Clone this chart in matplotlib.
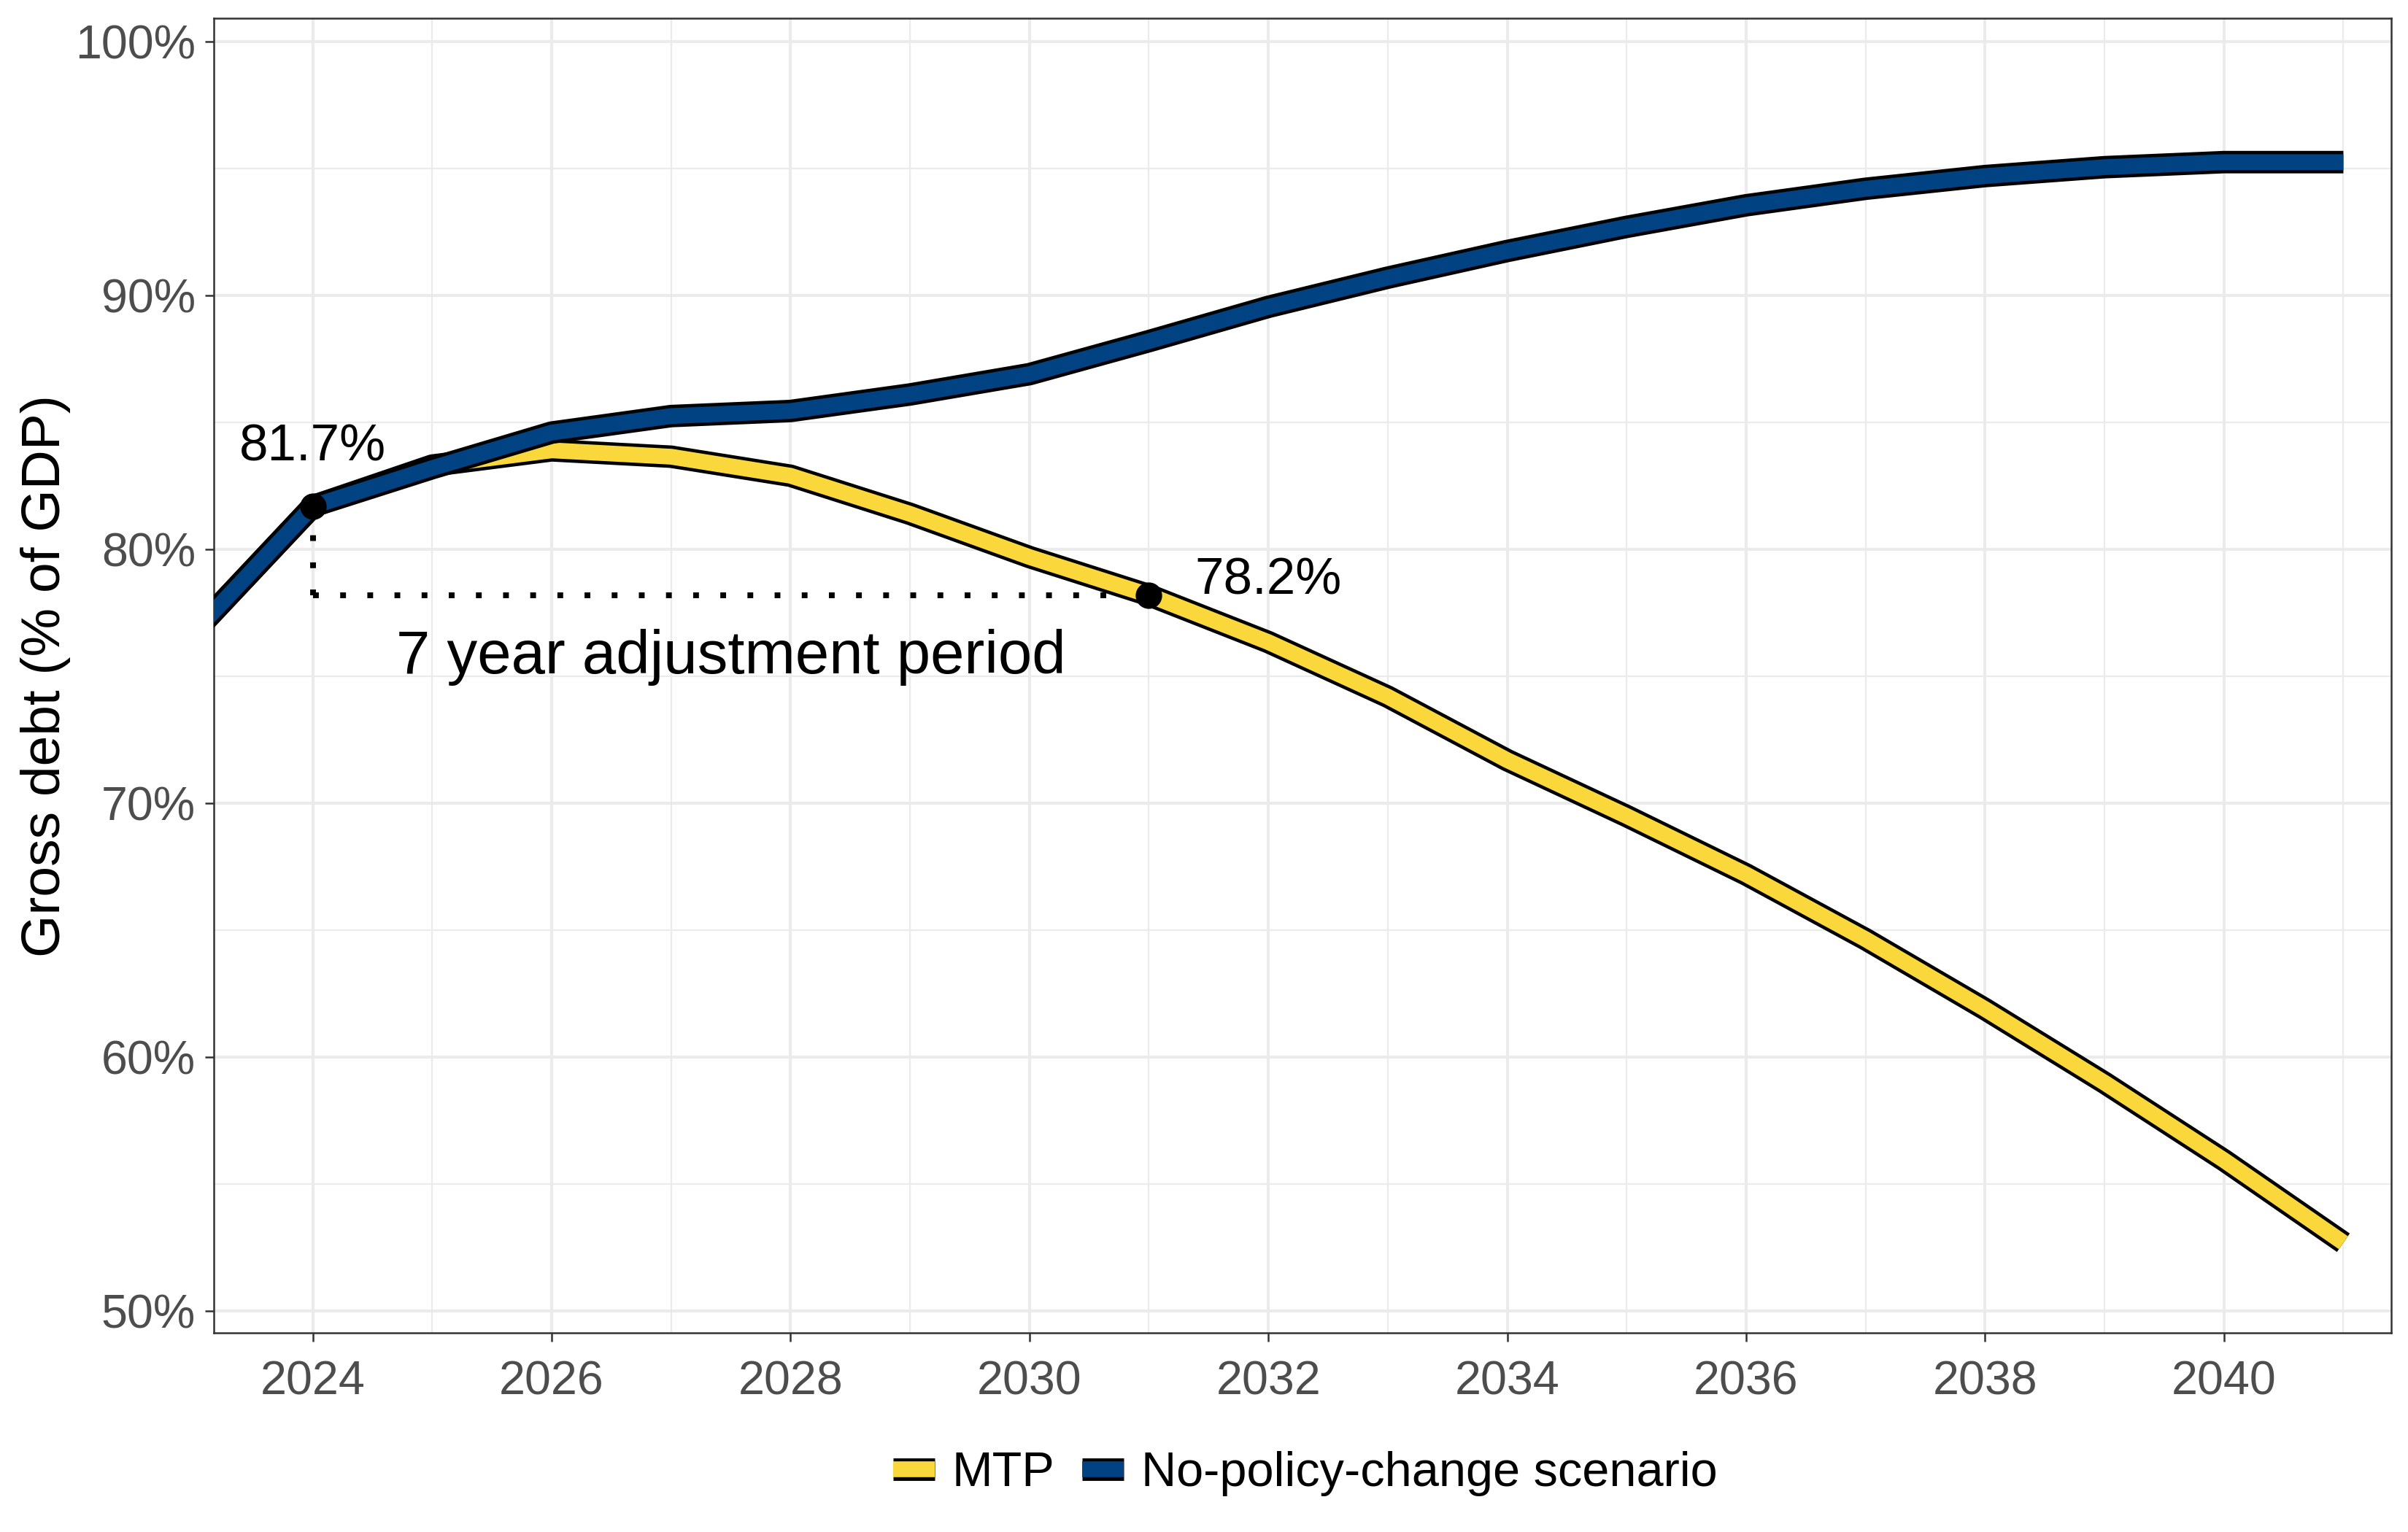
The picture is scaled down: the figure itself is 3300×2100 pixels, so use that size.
import matplotlib
matplotlib.use("Agg")
import matplotlib.pyplot as plt
import matplotlib.patheffects as pe
from matplotlib.ticker import FuncFormatter, MultipleLocator

plt.rcParams["font.family"] = ["Liberation Sans", "DejaVu Sans"]

# Gross debt paths, % of GDP
years = list(range(2023, 2042))
mtp = [76.7, 81.7, 83.3, 83.9, 83.65, 82.9, 81.4, 79.7, 78.2, 76.35,
       74.2, 71.7, 69.5, 67.2, 64.65, 61.9, 59.0, 55.95, 52.7]
no_policy = [76.7, 81.7, 83.2, 84.6, 85.25, 85.45, 86.1, 86.9, 88.2, 89.55,
             90.7, 91.75, 92.7, 93.55, 94.2, 94.7, 95.05, 95.25, 95.25]

series_names = ["MTP", "No-policy-change scenario"]
series_colors = ["#FAD83C", "#004282"]

start_year, end_year = 2024, 2031
start_val, end_val = 81.7, 78.2

fig = plt.figure(figsize=(11, 7), dpi=300)
ax = fig.add_axes([0.0887, 0.130, 0.9043, 0.858])

# dotted guide for the adjustment period
dots = dict(color="black", lw=1.9, ls=(0, (1, 3.7)), dash_capstyle="butt", zorder=1)
ax.plot([start_year, end_year], [end_val, end_val], **dots)
ax.plot([start_year, start_year], [end_val, start_val], **dots)

# thick lines with a black outline
lines = []
for vals, name, col, z in zip([mtp, no_policy], series_names, series_colors, [2, 3]):
    ln, = ax.plot(years, vals, color=col, lw=5.2, solid_capstyle="butt",
                  solid_joinstyle="round", label=name, zorder=z,
                  path_effects=[pe.Stroke(linewidth=7.4, foreground="black",
                                          capstyle="butt"), pe.Normal()])
    lines.append(ln)

ax.plot([start_year, end_year], [start_val, end_val], "o", color="black",
        ms=7.7, zorder=5)

ax.text(2024, 84.0, "81.7%", ha="center", va="center", fontsize=17)
ax.text(2032, 78.75, "78.2%", ha="center", va="center", fontsize=17)
ax.text(2027.5, 75.75, "7 year adjustment period", ha="center", va="center",
        fontsize=20)

ax.set_xlim(2023.17, 2041.40)
ax.set_ylim(49.15, 100.91)
ax.xaxis.set_major_locator(MultipleLocator(2))
ax.xaxis.set_minor_locator(MultipleLocator(1))
ax.yaxis.set_major_locator(MultipleLocator(10))
ax.yaxis.set_minor_locator(MultipleLocator(5))
ax.yaxis.set_major_formatter(FuncFormatter(lambda v, p: f"{v:.0f}%"))

ax.grid(which="major", color="#EBEBEB", lw=1.0, zorder=0)
ax.grid(which="minor", color="#EBEBEB", lw=0.55, zorder=0)
ax.set_axisbelow(True)
ax.tick_params(which="major", length=2.9, width=0.6, color="#333333",
               labelcolor="#4D4D4D", labelsize=15.5, pad=3)
ax.tick_params(axis="x", pad=6)
ax.tick_params(which="minor", length=0)
for sp in ax.spines.values():
    sp.set_color("#333333")
    sp.set_linewidth(0.6)

fig.text(0.019, 0.559, "Gross debt (% of GDP)", rotation=90, ha="center",
         va="center", fontsize=18)

fig.legend(handles=lines, loc="center", bbox_to_anchor=(0.542, 0.038), ncol=2,
           frameon=False, fontsize=16, handlelength=0.86, handletextpad=0.35,
           columnspacing=0.57)

fig.savefig("out.png", dpi=300)
